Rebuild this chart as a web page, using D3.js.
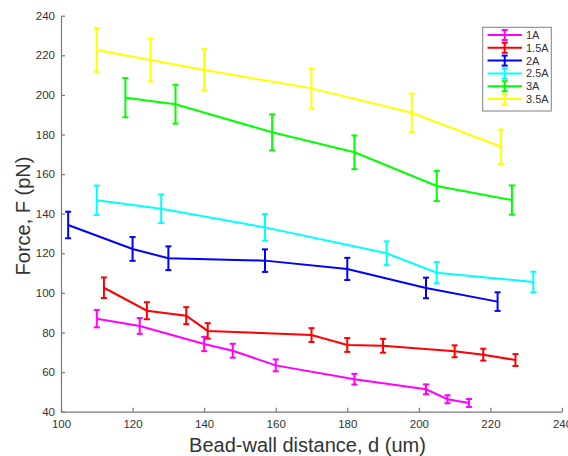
<!DOCTYPE html>
<html><head><meta charset="utf-8">
<script src="https://cdn.jsdelivr.net/npm/d3@7"></script>
<style>
html,body{margin:0;padding:0;background:#fff;}
svg{display:block;font-family:"Liberation Sans",Arial,sans-serif;}
</style></head>
<body><svg id="c" width="568" height="456"></svg>
<script>
const seriesNames = ["1A","1.5A","2A","2.5A","3A","3.5A"];
const seriesColors = ["#ff00ff","#ff0000","#0000ff","#00ffff","#00ff00","#ffff00"];

const x1A  = [110,122,140,148,160,182,202,208,214];
const y1A  = [87,83.3,74.2,70.8,63.4,56.4,51.3,46.3,44.4];
const e1A  = [4.4,4,3.6,3.5,3,2.7,2.5,2,2];

const x15A = [112,124,135,141,170,180,190,210,218,227];
const y15A = [102.6,91,88.5,80.8,78.7,73.7,73.3,70.5,68.8,66.1];
const e15A = [5.2,4.3,4.3,3.9,3.5,3.5,3.5,3,3,3];

const x2A  = [102,120,130,157,180,202,222];
const y2A  = [134.3,122.2,117.5,116.3,112.1,102.5,95.6];
const e2A  = [6.7,6,6,5.7,5.6,5.2,4.7];

const x25A = [110,128,157,191,205,232];
const y25A = [146.8,142.5,133.1,120,110.2,105.5];
const e25A = [7.4,7.2,6.7,6,5.4,5.2];

const x3A  = [118,132,159,182,205,226];
const y3A  = [198.6,195.3,181.1,171,154,146.9];
const e3A  = [9.9,9.8,9.1,8.5,7.6,7.4];

const x35A = [110,125,140,170,198,223];
const y35A = [222.7,217.6,212.6,203.3,191,173.8];
const e35A = [11,10.8,10.5,10.1,9.7,8.7];

const xTicks = [100,120,140,160,180,200,220,240];
const yTicks = [40,60,80,100,120,140,160,180,200,220,240];

const allX = [x1A,x15A,x2A,x25A,x3A,x35A];
const allY = [y1A,y15A,y2A,y25A,y3A,y35A];
const allE = [e1A,e15A,e2A,e25A,e3A,e35A];

const svg = d3.select("#c");
const L = 61, R = 562, T = 15.7, B = 411.7;
const x = d3.scaleLinear().domain([100,240]).range([L,R]);
const y = d3.scaleLinear().domain([40,240]).range([B,T]);
const axisColor = "#7a7a7a", textColor = "#333";

// axes
const xa = svg.append("g").attr("transform",`translate(0,${B})`)
  .call(d3.axisBottom(x).tickValues(xTicks).tickSizeInner(-4).tickSizeOuter(0).tickPadding(8));
const ya = svg.append("g").attr("transform",`translate(${L},0)`)
  .call(d3.axisLeft(y).tickValues(yTicks).tickSizeInner(-4).tickSizeOuter(0).tickPadding(6));
[xa,ya].forEach(g=>{
  g.select(".domain").attr("stroke",axisColor).attr("stroke-width",1.2);
  g.selectAll(".tick line").attr("stroke",axisColor).attr("stroke-width",1.2);
  g.selectAll(".tick text").attr("fill",textColor).attr("font-size",11.5)
    .attr("font-family","'Liberation Sans',Arial,sans-serif");
});

// series
const line = d3.line().x(d=>x(d[0])).y(d=>y(d[1]));
const cap = 3;
seriesNames.forEach((n,i)=>{
  const pts = allX[i].map((v,j)=>[v,allY[i][j],allE[i][j]]);
  const g = svg.append("g");
  g.append("path").datum(pts).attr("d",line).attr("fill","none")
    .attr("stroke",seriesColors[i]).attr("stroke-width",2);
  const eb = g.selectAll(".eb").data(pts).enter().append("g");
  eb.append("line").attr("x1",d=>x(d[0])).attr("x2",d=>x(d[0]))
    .attr("y1",d=>y(d[1]-d[2])).attr("y2",d=>y(d[1]+d[2]))
    .attr("stroke",seriesColors[i]).attr("stroke-width",2);
  eb.append("line").attr("x1",d=>x(d[0])-cap).attr("x2",d=>x(d[0])+cap)
    .attr("y1",d=>y(d[1]+d[2])).attr("y2",d=>y(d[1]+d[2]))
    .attr("stroke",seriesColors[i]).attr("stroke-width",2);
  eb.append("line").attr("x1",d=>x(d[0])-cap).attr("x2",d=>x(d[0])+cap)
    .attr("y1",d=>y(d[1]-d[2])).attr("y2",d=>y(d[1]-d[2]))
    .attr("stroke",seriesColors[i]).attr("stroke-width",2);
});

// axis labels
svg.append("text").attr("x",307.5).attr("y",452).attr("text-anchor","middle")
  .attr("font-size",20).attr("fill",textColor).text("Bead-wall distance, d (um)");
svg.append("text").attr("transform",`translate(30,216) rotate(-90)`)
  .attr("text-anchor","middle").attr("font-size",20).attr("fill",textColor).text("Force, F (pN)");

// legend
const lg = svg.append("g");
lg.append("rect").attr("x",482.7).attr("y",27.3).attr("width",68.6).attr("height",83.7)
  .attr("fill","#fff").attr("stroke","#808080").attr("stroke-width",1);
seriesNames.forEach((n,i)=>{
  const ry = 35 + i*12.8;
  const c = seriesColors[i];
  lg.append("line").attr("x1",487.5).attr("x2",522).attr("y1",ry).attr("y2",ry)
    .attr("stroke",c).attr("stroke-width",2);
  lg.append("line").attr("x1",504.7).attr("x2",504.7).attr("y1",ry-5).attr("y2",ry+5)
    .attr("stroke",c).attr("stroke-width",2);
  [ry-5,ry+5].forEach(yy=>lg.append("line").attr("x1",501.7).attr("x2",507.7)
    .attr("y1",yy).attr("y2",yy).attr("stroke",c).attr("stroke-width",2));
  lg.append("text").attr("x",526).attr("y",ry+4).attr("font-size",11)
    .attr("fill",textColor).text(n);
});
</script></body></html>
